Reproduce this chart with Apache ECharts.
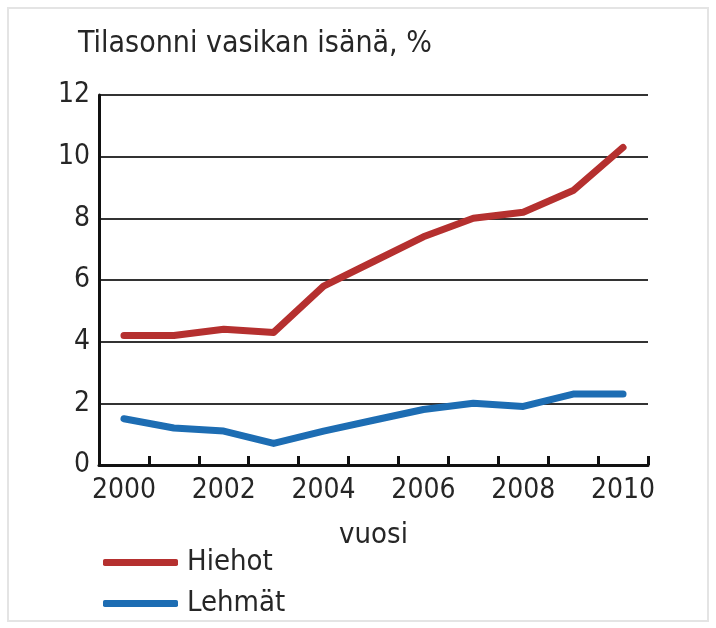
<!DOCTYPE html>
<html>
<head>
<meta charset="utf-8">
<script src="https://cdn.jsdelivr.net/npm/echarts@6/dist/echarts.min.js"></script>
<style>
  html, body { margin: 0; padding: 0; background: #ffffff; }
  #chart { width: 716px; height: 628px; }
</style>
</head>
<body>
<div id="chart"></div>
<script>
// Share of calves sired by a farm's own bull, by year
const years = ['2000', '2001', '2002', '2003', '2004', '2005', '2006', '2007', '2008', '2009', '2010'];
const hiehot = [4.2, 4.2, 4.4, 4.3, 5.8, 6.6, 7.4, 8.0, 8.2, 8.9, 10.3];
const lehmat = [1.5, 1.2, 1.1, 0.7, 1.1, 1.45, 1.8, 2.0, 1.9, 2.3, 2.3];
const yTicks = [0, 2, 4, 6, 8, 10, 12];

const FONT = '"DejaVu Sans Condensed", "Liberation Sans Narrow", Roboto, sans-serif';
const TEXT = '#262626';
const RED = '#b5302f';
const BLUE = '#1d6db3';

const chart = echarts.init(document.getElementById('chart'), null, { renderer: 'canvas' });

chart.setOption({
  backgroundColor: '#ffffff',
  animation: false,
  textStyle: { fontFamily: FONT, color: TEXT },
  title: {
    text: 'Tilasonni vasikan isänä, %',
    left: 78,
    top: 29,
    padding: 0,
    textStyle: { fontFamily: FONT, fontSize: 30, fontWeight: 'normal', color: TEXT }
  },
  legend: {
    orient: 'vertical',
    left: 103,
    top: 548,
    padding: 0,
    itemGap: 12,
    itemWidth: 75,
    itemHeight: 7,
    icon: 'roundRect',
    textStyle: { fontFamily: FONT, fontSize: 29, color: TEXT, padding: [0, 0, 0, 4] },
    data: ['Hiehot', 'Lehmät']
  },
  graphic: [{
    type: 'rect',
    shape: { x: 8, y: 8, width: 700, height: 613 },
    style: { fill: 'none', stroke: '#e4e4e4', lineWidth: 2 },
    silent: true
  }],
  grid: { left: 99, right: 68, top: 95, bottom: 163, containLabel: false },
  xAxis: {
    type: 'category',
    data: years,
    boundaryGap: true,
    name: 'vuosi',
    nameLocation: 'middle',
    nameGap: 56,
    nameTextStyle: { fontFamily: FONT, fontSize: 29, color: TEXT },
    axisLine: { lineStyle: { color: '#111111', width: 3 } },
    axisTick: { show: true, inside: true, length: 9, interval: 0, lineStyle: { color: '#111111', width: 3 } },
    axisLabel: { interval: 1, fontFamily: FONT, fontSize: 28, color: TEXT, margin: 12 },
    splitLine: { show: false }
  },
  yAxis: {
    type: 'value',
    min: yTicks[0],
    max: yTicks[yTicks.length - 1],
    interval: 2,
    axisLine: { show: true, lineStyle: { color: '#111111', width: 3 } },
    axisTick: { show: false },
    axisLabel: { fontFamily: FONT, fontSize: 28, color: TEXT, margin: 9 },
    splitLine: { show: true, lineStyle: { color: '#333333', width: 2 } }
  },
  series: [
    {
      name: 'Hiehot',
      type: 'line',
      data: hiehot,
      showSymbol: false,
      symbol: 'none',
      color: RED,
      lineStyle: { color: RED, width: 7, cap: 'round', join: 'round' },
      z: 3
    },
    {
      name: 'Lehmät',
      type: 'line',
      data: lehmat,
      showSymbol: false,
      symbol: 'none',
      color: BLUE,
      lineStyle: { color: BLUE, width: 7, cap: 'round', join: 'round' },
      z: 3
    }
  ]
});
</script>
</body>
</html>
